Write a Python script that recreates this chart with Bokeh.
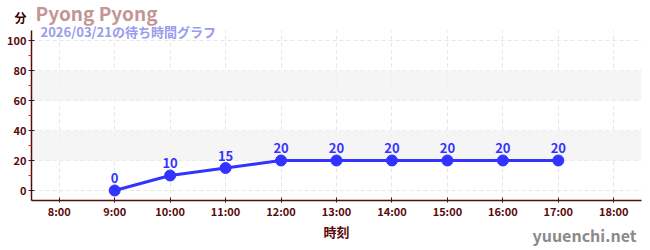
from bokeh.plotting import figure
from bokeh.models import (BoxAnnotation, FixedTicker, ColumnDataSource, LabelSet,
                          Label)
from bokeh.core.properties import value
from bokeh.embed import file_html
from bokeh.resources import INLINE

# wait times through the day (hour of day, minutes)
hours = [9, 10, 11, 12, 13, 14, 15, 16, 17]
waits = [0, 10, 15, 20, 20, 20, 20, 20, 20]
tick_hours = [8, 9, 10, 11, 12, 13, 14, 15, 16, 17, 18]
tick_labels = ["8:00", "9:00", "10:00", "11:00", "12:00", "13:00", "14:00",
               "15:00", "16:00", "17:00", "18:00"]
y_ticks = [0, 20, 40, 60, 80, 100]
title = "Pyong Pyong"
subtitle = "2026/03/21の待ち時間グラフ"
unit_label = "分"
site = "yuuenchi.net"

FONT = "Noto Sans CJK JP"
AXIS = "#5a0a0a"

# The top border is made tall enough to hold the heading texts without
# squeezing the frame; the page is then shifted up by the surplus.
TOP = 130
SHIFT = TOP - 30

p = figure(frame_width=610, frame_height=170, output_backend="svg",
           toolbar_location=None,
           x_range=(7.5, 18.5), y_range=(-6.67, 106.67),
           min_border_left=31, min_border_right=9, min_border_top=TOP,
           min_border_bottom=50, styles={"margin-top": f"-{SHIFT}px"})
p.outline_line_color = None
p.background_fill_color = "white"

# alternating bands
for lo, hi in [(20, 40), (60, 80)]:
    p.add_layout(BoxAnnotation(bottom=lo, top=hi, fill_color="#f2f2f2",
                               fill_alpha=0.8, line_color=None, level="underlay"))

p.xgrid.grid_line_color = "#e6e6e6"
p.xgrid.grid_line_dash = "4 3"
p.ygrid.grid_line_color = "#e6e6e6"
p.ygrid.grid_line_dash = "4 3"

p.xaxis.ticker = FixedTicker(ticks=tick_hours)
p.xaxis.major_label_overrides = {h: t for h, t in zip(tick_hours, tick_labels)}
p.yaxis.ticker = FixedTicker(ticks=y_ticks, minor_ticks=[10, 30, 50, 70, 90])

for ax in (p.xaxis[0], p.yaxis[0]):
    ax.axis_line_color = AXIS
    ax.axis_line_width = 1.5
    ax.major_tick_line_color = "#222222"
    ax.major_tick_in = 3
    ax.major_tick_out = 3
    ax.minor_tick_line_color = "#dd2222"
    ax.minor_tick_in = 0
    ax.minor_tick_out = 3
    ax.major_label_text_font = FONT
    ax.major_label_text_font_style = "bold"
    ax.major_label_text_font_size = "11px"
    ax.major_label_text_color = AXIS
    ax.major_label_standoff = 2

p.xaxis.minor_tick_line_color = None
p.xaxis.major_tick_in = 3
p.xaxis.major_tick_out = 2
p.xaxis.major_label_standoff = 0
p.xaxis.axis_label = "時刻"
p.xaxis.axis_label_text_font = FONT
p.xaxis.axis_label_text_font_style = "bold"
p.xaxis.axis_label_text_font_size = "13px"
p.xaxis.axis_label_text_color = AXIS
p.xaxis.axis_label_standoff = 0

src = ColumnDataSource(dict(x=hours, y=waits, t=[str(w) for w in waits]))
p.line("x", "y", source=src, line_color="#3333ff", line_width=3)
p.scatter("x", "y", source=src, size=11, fill_color="#3333ff", line_color="#3333ff")
p.add_layout(LabelSet(x="x", y="y", text="t", source=src, y_offset=7,
                      text_align="center", text_font=value(FONT),
                      text_font_style="bold", text_font_size="13px",
                      text_color="#3333ff"))

# heading, unit and site texts in canvas pixels (y from the canvas top)
def head(x, y, text, color, size, style="bold", align="left"):
    p.add_layout(Label(x=x, y=y + SHIFT, x_units="canvas", y_units="canvas",
                       text=text, text_align=align, text_baseline="middle",
                       text_font=FONT, text_font_style=style,
                       text_font_size=size, text_color=color), "above")

head(20, 17, unit_label, "#3a0000", "12px", align="center")
head(35, 12, title, "#c49595", "19px")
head(40, 31, subtitle, "#9a9aee", "13px")
head(636, 234, site, "#8a8a8a", "16px", align="right")

open("out.html", "w").write(file_html(p, INLINE))
